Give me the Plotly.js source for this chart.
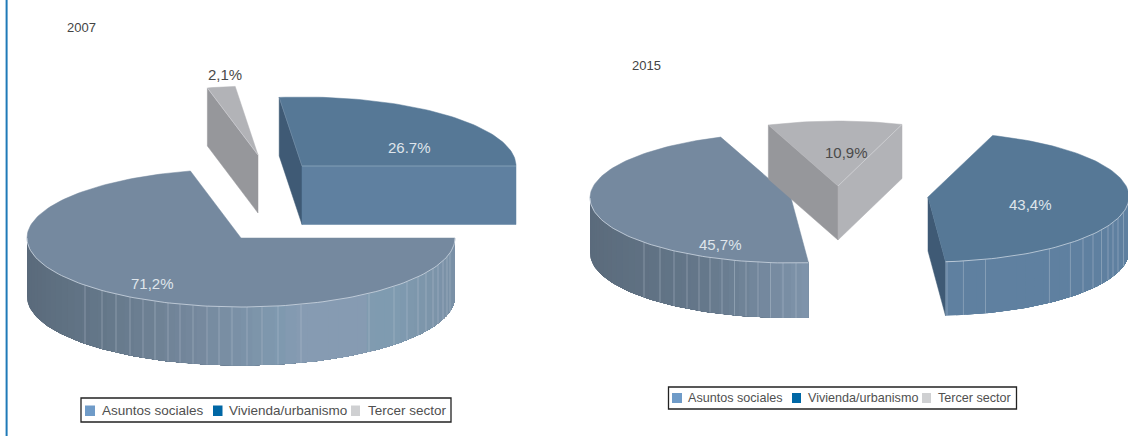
<!DOCTYPE html>
<html><head><meta charset="utf-8">
<script src="https://cdn.plot.ly/plotly-3.0.1.min.js"></script>
<style>html,body{margin:0;padding:0;background:#fff}#c{width:1128px;height:436px}</style></head>
<body><div id="c"></div>
<script>
// ---------- data ----------
const categories = ["Asuntos sociales", "Vivienda/urbanismo", "Tercer sector"];
const values2007 = [71.2, 26.7, 2.1];
const values2015 = [45.7, 43.4, 10.9];
const labels2007 = ["71,2%", "26.7%", "2,1%"];
const labels2015 = ["45,7%", "43,4%", "10,9%"];
const years = ["2007", "2015"];

// ---------- styling / placement ----------
const swatchColors = ["#6f9bc8", "#0067a5", "#cfd0d2"];
const FONT = "Liberation Sans, Arial, sans-serif";
const topColors = ["#75899f", "#567896", "#b2b3b7"];
const darkCut = ["#000000", "#3f5a75", "#96979b"];
const slat2007 = [85,102,116,130,143,155,168,180,193,207,219,232,247,262,278,301,369,394,407,418,426,433,438,443,447,450];
const slat2015a = [644,660,674,687,699,710,722,734.5,746,758,770.5,783,796];
const slat2015b = [947,963.4,985.5,1049.4,1070.4,1083,1093,1101.5,1108,1113,1118,1123.5];
const grad2007 = [[27,[90,106,123]],[100,[100,119,137]],[200,[118,137,158]],[280,[127,153,175]],[300,[134,155,178]],[368,[134,155,178]],[372,[127,155,176]],[395,[127,155,176]],[455,[122,144,166]]];
const grad2015a = [[590,[91,107,124]],[700,[100,119,138]],[808,[127,148,171]]];
const grad2015b = [[928,[95,128,160]],[1128,[95,128,160]]];

const traces = [];
function rad(d){return d*Math.PI/180;}
function P(g,a){return [g.cx+g.rx*Math.cos(rad(a)), g.cy-g.ry*Math.sin(rad(a))];}
function poly(pts,color,lw){
  traces.push({type:"scatter",mode:"lines",x:pts.map(p=>p[0]).concat(pts[0][0]),y:pts.map(p=>p[1]).concat(pts[0][1]),
    fill:"toself",fillcolor:color,line:{color:color,width:lw===undefined?0.5:lw},hoverinfo:"skip"});
}
function line(pts,color,w){
  traces.push({type:"scatter",mode:"lines",x:pts.map(p=>p[0]),y:pts.map(p=>p[1]),line:{color:color,width:w},hoverinfo:"skip"});
}
function arc(g,a0,a1){const n=Math.max(2,Math.ceil(Math.abs(a1-a0)/1.5));const o=[];for(let i=0;i<=n;i++)o.push(P(g,a0+(a1-a0)*i/n));return o;}
function gradAt(st,x){
  if(x<=st[0][0])return st[0][1];
  for(let i=1;i<st.length;i++){if(x<=st[i][0]){const t=(x-st[i-1][0])/(st[i][0]-st[i-1][0]);return st[i-1][1].map((c,k)=>c+(st[i][1][k]-c)*t);}}
  return st[st.length-1][1];
}
function side(g,a0,a1,st,slats){
  // outer wall on the front half of the ellipse; later bands overlap earlier ones so no seams show
  const hi=Math.min(0,a0), lo=Math.max(-180,a1);
  const step=3;
  for(let a=lo;a<hi;a+=step){
    const mid=Math.min(hi,a+step);
    const c=gradAt(st,P(g,(a+mid)/2)[0]).map(Math.round);
    const wall=arc(g,a,hi);
    const lower=wall.map(p=>[p[0],p[1]+g.d]).reverse();
    poly(wall.concat(lower),`rgb(${c})`,0);
  }
  (slats||[]).forEach(x=>{
    const u=(x-g.cx)/g.rx; const y=g.cy+g.ry*Math.sqrt(Math.max(0,1-u*u));
    line([[x,y],[x,y+g.d]],"rgba(190,203,216,0.5)",0.8);
  });
}
function topFace(g,a0,a1,color){poly([[g.cx,g.cy]].concat(arc(g,a0,a1)),color);}
function cutFace(g,a,color){const p=P(g,a);poly([[g.cx,g.cy],p,[p[0],p[1]+g.d],[g.cx,g.cy+g.d]],color);}
function frontRim(g,hi,lo){line(arc(g,hi,lo),"rgba(222,230,238,0.85)",0.8);}

// 2007: clockwise from the 3 o'clock ray: Asuntos, Tercer, Vivienda
const aEnd07=-values2007[0]*3.6, tEnd07=aEnd07-values2007[2]*3.6, vEnd07=tEnd07-values2007[1]*3.6;
const gA07={cx:241,cy:238,rx:214,ry:69,d:58.5}, gV07={cx:302,cy:166,rx:214,ry:69,d:58.5}, gT07={cx:258,cy:155,rx:214,ry:69,d:58};
cutFace(gT07,aEnd07,darkCut[2]);
topFace(gT07,aEnd07,tEnd07,topColors[2]);
line([[gT07.cx,gT07.cy],P(gT07,aEnd07)],"rgba(215,216,220,0.8)",0.7);
cutFace(gV07,tEnd07,darkCut[1]);
cutFace(gV07,vEnd07,"#5f80a0");
topFace(gV07,tEnd07,vEnd07,topColors[1]);
line([[gV07.cx,gV07.cy],P(gV07,vEnd07)],"rgba(170,190,210,0.7)",0.8);
line([[gV07.cx,gV07.cy],P(gV07,tEnd07)],"rgba(120,145,170,0.7)",0.7);
side(gA07,0,aEnd07,grad2007,slat2007);
topFace(gA07,0,aEnd07,topColors[0]);
frontRim(gA07,0,-180);

// 2015: clockwise from just right of 6 o'clock
const start15=-85;
const aEnd=start15-values2015[0]*3.6, tEnd=aEnd-values2015[2]*3.6, vEnd=tEnd-values2015[1]*3.6;
const gA15={cx:791,cy:198,rx:201,ry:65,d:55}, gV15={cx:928,cy:197,rx:201,ry:65,d:54}, gT15={cx:838,cy:186,rx:199,ry:65,d:54};
side(gA15,start15,aEnd,grad2015a,slat2015a);
topFace(gA15,start15,aEnd,topColors[0]);
frontRim(gA15,start15,-180);
cutFace(gT15,aEnd,darkCut[2]);
cutFace(gT15,tEnd,topColors[2]);
topFace(gT15,aEnd,tEnd,topColors[2]);
line([[gT15.cx,gT15.cy],P(gT15,tEnd)],"rgba(215,216,220,0.9)",0.7);
cutFace(gV15,vEnd,darkCut[1]);
side(gV15,0,start15,grad2015b,slat2015b);
topFace(gV15,tEnd,vEnd,topColors[1]);
frontRim(gV15,0,start15);

// ---------- text ----------
const ann=[];
function txt(x,y,t,size,color,anchor){ann.push({x:x,y:y,xref:"x",yref:"y",text:t,showarrow:false,xanchor:anchor||"center",yanchor:"middle",font:{family:FONT,size:size,color:color}});}
txt(64.5,27,years[0],13,"#444","left");
txt(630,65,years[1],13,"#444","left");
const lt="#dfe5eb", dk="#4a4a4a";
txt(152,283,labels2007[0],15,lt);
txt(409,147,labels2007[1],15,lt);
txt(225,74,labels2007[2],15,dk);
txt(720,244,labels2015[0],15,lt);
txt(1030,204,labels2015[1],15,lt);
txt(846,152,labels2015[2],15,dk);

// ---------- legends and frame ----------
const shapes=[];
function rect(x0,y0,x1,y1,fill,lc,lw){shapes.push({type:"rect",xref:"x",yref:"y",x0,y0,x1,y1,fillcolor:fill,line:{color:lc||fill,width:lw||0},layer:"above"});}
rect(5.6,0,7.6,436,"#1f7ab8");
function legend(box,sw,tx,y0,y1,size){
  rect(box[0],box[1],box[2],box[3],"#ffffff","#222222",1.3);
  categories.forEach((c,i)=>{rect(sw[i][0],y0,sw[i][1],y1,swatchColors[i]);
    txt(tx[i],(box[1]+box[3])/2,c,size,"#505050","left");});
}
legend([81,398,451,422],[[85,95],[213,222.5],[351,360]],[99.5,227,366],405.5,416,13.5);
legend([668.5,387,1016.5,409],[[672,682],[792,801],[922,931]],[686,805.5,936],393,403,12.6);

Plotly.newPlot("c",traces,{
  width:1128,height:436,margin:{l:0,r:0,t:0,b:0},showlegend:false,
  paper_bgcolor:"#fff",plot_bgcolor:"#fff",hovermode:false,
  xaxis:{visible:false,range:[0,1128],fixedrange:true},
  yaxis:{visible:false,range:[436,0],fixedrange:true},
  shapes:shapes,annotations:ann
},{displayModeBar:false,staticPlot:true});
</script></body></html>
